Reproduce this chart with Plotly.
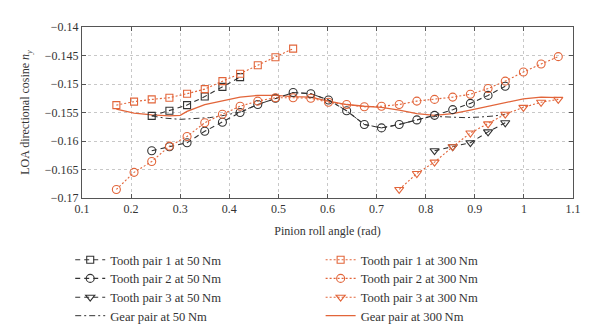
import plotly.graph_objects as go

ORANGE = "#E2653A"
BLACK = "#333333"

x_all = [0.170, 0.206, 0.242, 0.278, 0.314, 0.350, 0.386, 0.422, 0.458, 0.494, 0.530,
         0.566, 0.602, 0.639, 0.675, 0.710, 0.746, 0.782, 0.818, 0.855, 0.891, 0.927,
         0.962, 0.999, 1.035, 1.070]

# Tooth pair 1 at 300 Nm
tp1_300_x = x_all[0:11]
tp1_300_y = [-0.1537, -0.1531, -0.1527, -0.1524, -0.1517, -0.1509, -0.1495, -0.1482,
             -0.1467, -0.1453, -0.1438]
# Tooth pair 1 at 50 Nm
tp1_50_x = x_all[2:8]
tp1_50_y = [-0.1556, -0.1547, -0.1537, -0.1522, -0.1505, -0.1488]
# Tooth pair 2 at 300 Nm
tp2_300_x = x_all
tp2_300_y = [-0.1685, -0.1655, -0.1636, -0.1609, -0.1592, -0.1568, -0.1553, -0.1539,
             -0.1530, -0.1524, -0.1524, -0.1525, -0.1532, -0.1536, -0.1540, -0.1539,
             -0.1536, -0.1530, -0.1527, -0.1523, -0.1518, -0.1508, -0.1495, -0.1479,
             -0.1465, -0.1452]
# Tooth pair 2 at 50 Nm
tp2_50_x = x_all[2:23]
tp2_50_y = [-0.1617, -0.1610, -0.1603, -0.1583, -0.1567, -0.1550, -0.1536, -0.1525,
            -0.1515, -0.1517, -0.1528, -0.1547, -0.1571, -0.1577, -0.1571, -0.1563,
            -0.1555, -0.1545, -0.1534, -0.1520, -0.1504]
# Tooth pair 3 at 300 Nm
tp3_300_x = x_all[16:26]
tp3_300_y = [-0.1685, -0.1657, -0.1637, -0.1610, -0.1586, -0.1570, -0.1553, -0.1541,
             -0.1532, -0.1527]
# Tooth pair 3 at 50 Nm
tp3_50_x = x_all[18:23]
tp3_50_y = [-0.1617, -0.1610, -0.1603, -0.1584, -0.1568]
# Gear pair at 50 Nm
gp50_x = [0.242, 0.27, 0.30, 0.33, 0.36, 0.39, 0.422, 0.458, 0.494, 0.530, 0.566,
          0.602, 0.639, 0.675, 0.710, 0.746, 0.782, 0.80, 0.82, 0.85, 0.88, 0.91,
          0.94, 0.962]
gp50_y = [-0.1556, -0.1560, -0.1562, -0.1561, -0.1559, -0.1555, -0.1549, -0.1536,
          -0.1525, -0.1515, -0.1517, -0.1528, -0.1547, -0.1571, -0.1577, -0.1571,
          -0.1563, -0.1559, -0.1557, -0.1558, -0.1559, -0.1558, -0.1556, -0.1553]
# Gear pair at 300 Nm
gp300_x = [0.170, 0.206, 0.242, 0.278, 0.30, 0.314, 0.350, 0.386, 0.422, 0.458, 0.494,
           0.530, 0.566, 0.602, 0.639, 0.675, 0.710, 0.746, 0.782, 0.818, 0.855, 0.891,
           0.927, 0.962, 0.999, 1.035, 1.070]
gp300_y = [-0.1544, -0.1551, -0.1554, -0.1556, -0.1555, -0.1548, -0.1536, -0.1529,
           -0.1523, -0.1520, -0.1520, -0.1522, -0.1523, -0.1530, -0.1536, -0.1539,
           -0.1541, -0.1546, -0.1552, -0.1555, -0.1552, -0.1546, -0.1539, -0.1532,
           -0.1526, -0.1523, -0.1524]

x_ticks = [0.1, 0.2, 0.3, 0.4, 0.5, 0.6, 0.7, 0.8, 0.9, 1.0, 1.1]
y_ticks = [-0.17, -0.165, -0.16, -0.155, -0.15, -0.145, -0.14]

FONT = "Liberation Serif"
fig = go.Figure()

def add(x, y, name, color, dash, symbol, legend, width=1.1, msize=7):
    kw = {}
    if symbol is not None:
        kw["marker"] = dict(symbol=symbol, size=msize, color=color,
                            line=dict(color=color, width=1.1))
        mode = "lines+markers"
    else:
        mode = "lines"
    fig.add_trace(go.Scatter(
        x=x, y=y, name=name, mode=mode, legend=legend, showlegend=True,
        line=dict(color=color, dash=dash, width=width), **kw))

add(gp300_x, gp300_y, "Gear pair at 300\u2009Nm", ORANGE, "solid", None, "legend8", width=1.3)
add(gp50_x, gp50_y, "Gear pair at 50\u2009Nm", BLACK, "6px,3px,2px,3px", None, "legend4", width=1.0)
add(tp1_50_x, tp1_50_y, "Tooth pair 1 at 50\u2009Nm", BLACK, "5px,4px", "square-open", "legend", msize=7)
add(tp2_50_x, tp2_50_y, "Tooth pair 2 at 50\u2009Nm", BLACK, "5px,4px", "circle-open", "legend2", msize=8)
add(tp3_50_x, tp3_50_y, "Tooth pair 3 at 50\u2009Nm", BLACK, "5px,4px", "triangle-down-open", "legend3", msize=8)
add(tp1_300_x, tp1_300_y, "Tooth pair 1 at 300\u2009Nm", ORANGE, "2px,2px", "square-open", "legend5", msize=7)
add(tp2_300_x, tp2_300_y, "Tooth pair 2 at 300\u2009Nm", ORANGE, "2px,2px", "circle-open", "legend6", msize=8)
add(tp3_300_x, tp3_300_y, "Tooth pair 3 at 300\u2009Nm", ORANGE, "2px,2px", "triangle-down-open", "legend7", msize=8)

axis_common = dict(
    showline=True, linecolor="#555555", linewidth=1, mirror="ticks",
    ticks="inside", ticklen=4, tickcolor="#555555",
    showgrid=True, gridcolor="#c8c8c8", griddash="dot", gridwidth=1,
    zeroline=False, tickfont=dict(family=FONT, size=12, color="#333333"),
)

LEG_FONT = dict(family=FONT, size=12.6, color="#333333")
row_y = [-0.3626, -0.4719, -0.5819, -0.690]
legends = {}
names = ["legend", "legend2", "legend3", "legend4", "legend5", "legend6", "legend7", "legend8"]
for i, nm in enumerate(names):
    col_x = -0.024 if i < 4 else 0.486
    legends[nm] = dict(x=col_x, y=row_y[i % 4], xanchor="left", yanchor="middle",
                       bgcolor="rgba(0,0,0,0)", font=LEG_FONT, itemwidth=30, visible=True)

fig.update_layout(
    width=600, height=329,
    showlegend=True,
    margin=dict(l=82, r=27, t=27, b=131, autoexpand=False),
    paper_bgcolor="white", plot_bgcolor="white",
    font=dict(family=FONT, size=12, color="#333333"),
    xaxis=dict(range=[0.1, 1.1], tickvals=x_ticks,
               title=dict(text="Pinion roll angle (rad)", standoff=11,
                          font=dict(family=FONT, size=12)), **axis_common),
    yaxis=dict(range=[-0.17, -0.14], tickvals=y_ticks,
               title=dict(text="LOA directional cosine <i>n</i><sub><i>y</i></sub>", standoff=12,
                          font=dict(family=FONT, size=12)), **axis_common),
    **legends,
)

fig.write_html("out.html")
